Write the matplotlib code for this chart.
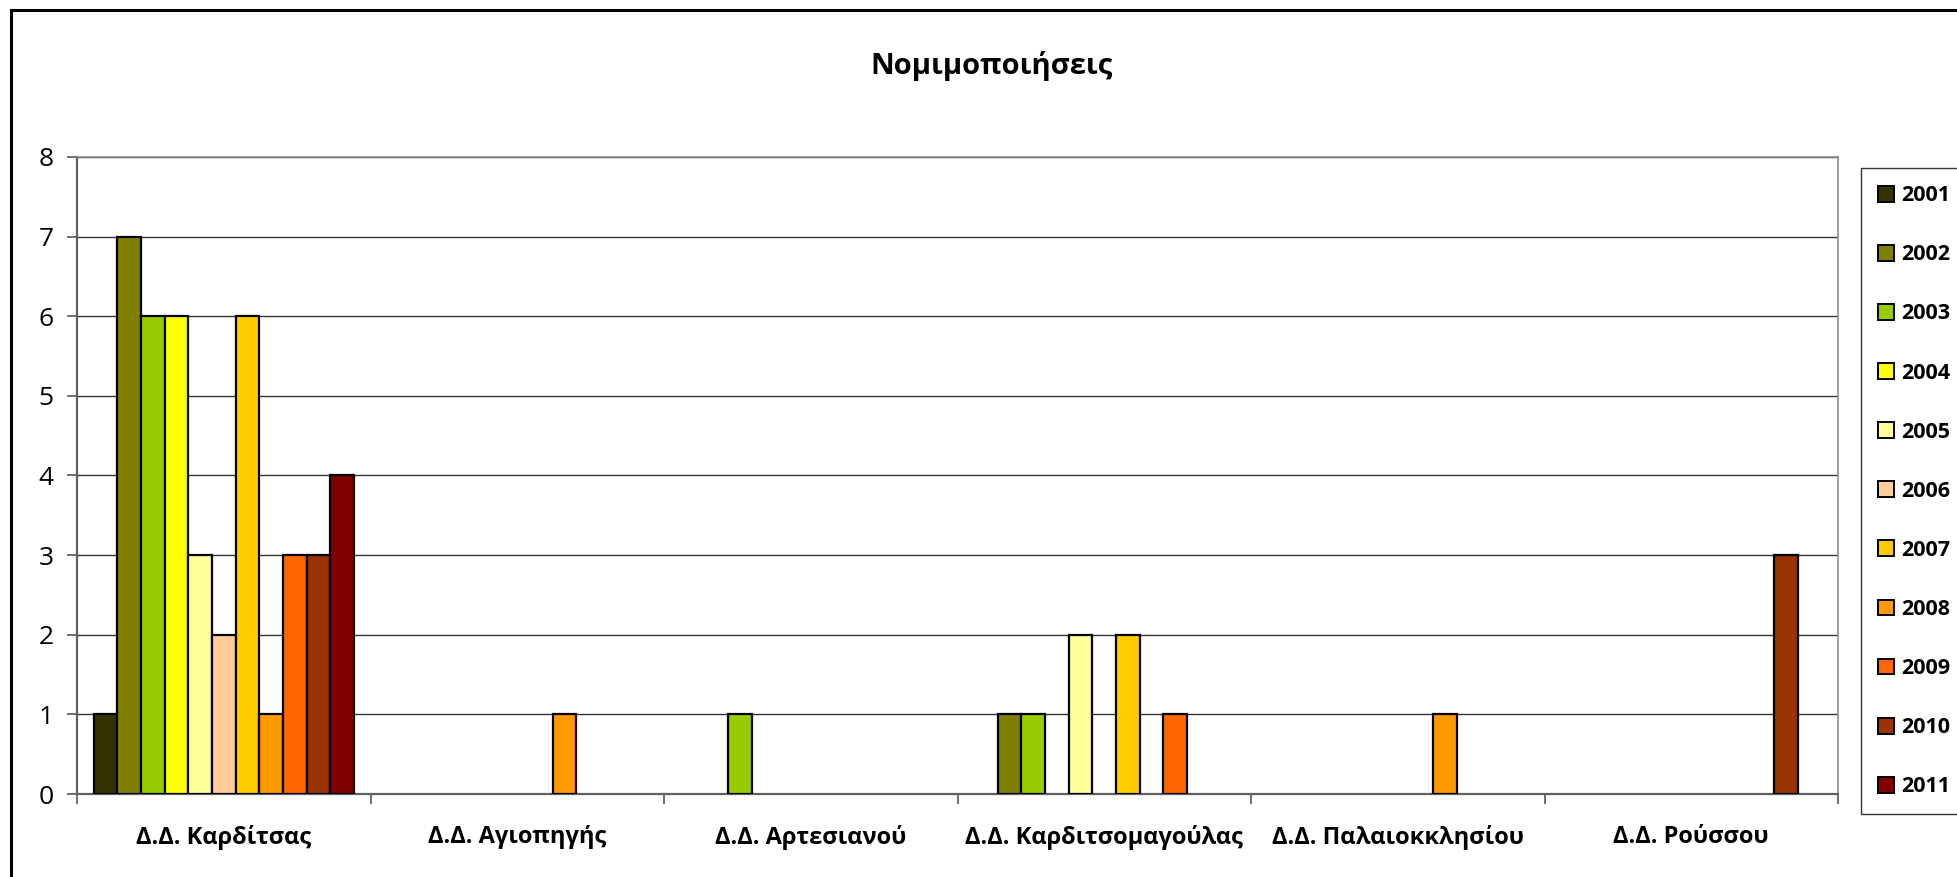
import matplotlib
matplotlib.use("Agg")
import matplotlib.pyplot as plt
import numpy as np
from matplotlib.patches import Rectangle

plt.rcParams["font.family"] = ["Open Sans", "DejaVu Sans"]

CATEGORIES = ["Δ.Δ. Καρδίτσας", "Δ.Δ. Αγιοπηγής", "Δ.Δ. Αρτεσιανού",
              "Δ.Δ. Καρδιτσομαγούλας", "Δ.Δ. Παλαιοκκλησίου", "Δ.Δ. Ρούσσου"]
YEARS = ["2001", "2002", "2003", "2004", "2005", "2006",
         "2007", "2008", "2009", "2010", "2011"]

# counts per year, one value per settlement (same order as CATEGORIES)
Y2001 = [1, 0, 0, 0, 0, 0]
Y2002 = [7, 0, 0, 1, 0, 0]
Y2003 = [6, 0, 1, 1, 0, 0]
Y2004 = [6, 0, 0, 0, 0, 0]
Y2005 = [3, 0, 0, 2, 0, 0]
Y2006 = [2, 0, 0, 0, 0, 0]
Y2007 = [6, 0, 0, 2, 0, 0]
Y2008 = [1, 1, 0, 0, 1, 0]
Y2009 = [3, 0, 0, 1, 0, 0]
Y2010 = [3, 0, 0, 0, 0, 3]
Y2011 = [4, 0, 0, 0, 0, 0]
SERIES = [Y2001, Y2002, Y2003, Y2004, Y2005, Y2006,
          Y2007, Y2008, Y2009, Y2010, Y2011]

COLORS = ["#333300", "#808000", "#99cc00", "#ffff00", "#ffff99", "#ffcc99",
          "#ffcc00", "#ff9900", "#ff6600", "#993300", "#800000"]

W, H = 1957, 877
fig = plt.figure(figsize=(W / 100, H / 100), dpi=100)
fig.patch.set_facecolor("white")

# chart-area frame (runs off the right and bottom edge)
fig.patches.append(Rectangle((11 / W, -0.1), 1.2, 1.1 - 10 / H,
                             transform=fig.transFigure, fill=False,
                             edgecolor="black", lw=2.2, zorder=0))

ax = fig.add_axes([77 / W, (H - 794) / H, 1761 / W, 637 / H])

n = len(SERIES)
width = 1 / (n + 1.41)
x = np.arange(len(CATEGORIES))
for j, (vals, col, yr) in enumerate(zip(SERIES, COLORS, YEARS)):
    vals = np.asarray(vals, dtype=float)
    keep = vals > 0
    ax.bar(x[keep] + (j - (n - 1) / 2) * width, vals[keep], width,
           color=col, edgecolor="black", lw=1.6, zorder=3)
    # legend proxy
    ax.bar([np.nan], [np.nan], color=col, edgecolor="black", lw=1.4, label=yr)

ax.set_xlim(-0.5, len(CATEGORIES) - 0.5)
ax.set_ylim(0, 8)
ax.set_yticks(range(0, 9))
ax.yaxis.grid(True, color="#333333", lw=1.0, zorder=0)
ax.set_axisbelow(True)

# category boundaries carry the tick marks, labels sit at the centres
ax.set_xticks(np.arange(-0.5, len(CATEGORIES)), minor=False)
ax.set_xticklabels([])
ax.set_xticks(x, minor=True)
ax.set_xticklabels(CATEGORIES, minor=True, fontsize=17, fontweight="bold")
ax.tick_params(axis="x", which="minor", length=0, pad=22)
ax.tick_params(axis="x", which="major", length=7, width=1.2, color="#555555")
ax.tick_params(axis="y", length=7, width=1.2, color="#555555",
               labelsize=19, pad=10)

for side in ("left", "bottom"):
    ax.spines[side].set_color("#606060")
    ax.spines[side].set_linewidth(1.6)
for side in ("top", "right"):
    ax.spines[side].set_color("#8c8c8c")
    ax.spines[side].set_linewidth(1.2)

ax.set_title("Νομιμοποιήσεις", fontsize=21, fontweight="bold",
             pad=60, x=(992 - 77) / 1761)

leg = ax.legend(loc="upper left", bbox_to_anchor=(1861 / W, (H - 168) / H),
                bbox_transform=fig.transFigure, frameon=True, fancybox=False,
                edgecolor="black", handlelength=0.75, handleheight=0.75,
                handletextpad=0.3, labelspacing=1.77, borderpad=0.8,
                borderaxespad=0, prop={"size": 15.5, "weight": "bold"})
leg.get_frame().set_linewidth(1.0)

fig.savefig("out.png", dpi=100)
